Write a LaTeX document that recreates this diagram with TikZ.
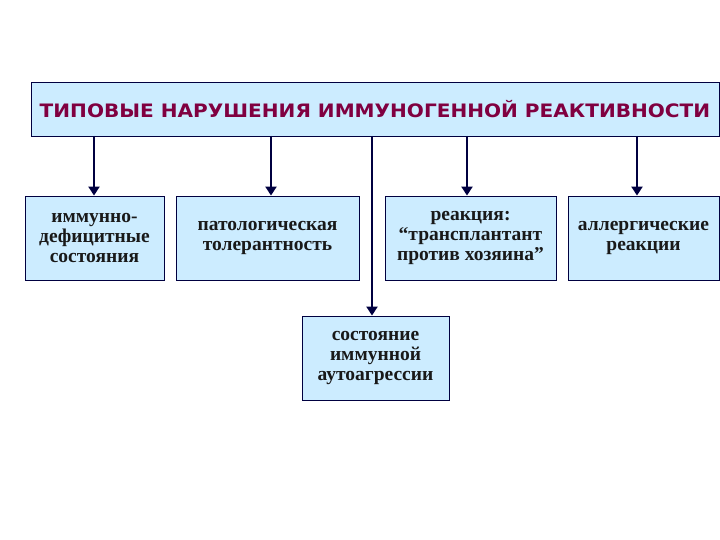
\documentclass[tikz,border=0pt]{standalone}
\usepackage{fontspec}
\setmainfont{Liberation Serif}
\newfontfamily\titlefont{DejaVu Sans}
\usetikzlibrary{arrows.meta}
\definecolor{boxfill}{RGB}{204,236,255}
\definecolor{navy}{RGB}{0,0,64}
\definecolor{titlered}{RGB}{128,0,64}
\begin{document}
\begin{tikzpicture}[x=1pt,y=-1pt,
  box/.style={draw=navy,line width=0.9pt,fill=boxfill,inner sep=0pt,align=center,
    font=\fontsize{19.5}{20}\selectfont\bfseries,text=black!90},
  conn/.style={draw=navy,line width=2.8pt,-{Triangle[width=11pt,length=9pt]}}]
\useasboundingbox (0,0) rectangle (720,540);
\node[box,minimum width=688pt,minimum height=54pt,
  font=\titlefont\fontsize{18.5}{20}\selectfont\bfseries,text=titlered] (title) at (375,109)
  {\scalebox{1.085}[1]{ТИПОВЫЕ НАРУШЕНИЯ ИММУНОГЕННОЙ РЕАКТИВНОСТИ}};
\node[box,minimum width=139pt,minimum height=84pt] (b1) at (94.5,238) {иммунно-\\дефицитные\\состояния};
\node[box,minimum width=183pt,minimum height=84pt] (b2) at (267.5,238) {патологическая\\толерантность};
\node[box,minimum width=171pt,minimum height=84pt] (b3) at (470.5,238) {реакция:\\“трансплантант\\против хозяина”};
\node[box,minimum width=151pt,minimum height=84pt] (b4) at (643.5,238) {аллергические\\реакции};
\node[box,minimum width=147pt,minimum height=84pt] (b5) at (375.5,358) {состояние\\иммунной\\аутоагрессии};
\coordinate (a1) at (94,136);
\coordinate (a2) at (271,136);
\coordinate (a3) at (372,136);
\coordinate (a4) at (467,136);
\coordinate (a5) at (637,136);
\draw[conn] (a1) -- (a1 |- b1.north);
\draw[conn] (a2) -- (a2 |- b2.north);
\draw[conn] (a3) -- (a3 |- b5.north);
\draw[conn] (a4) -- (a4 |- b3.north);
\draw[conn] (a5) -- (a5 |- b4.north);
\end{tikzpicture}
\end{document}
